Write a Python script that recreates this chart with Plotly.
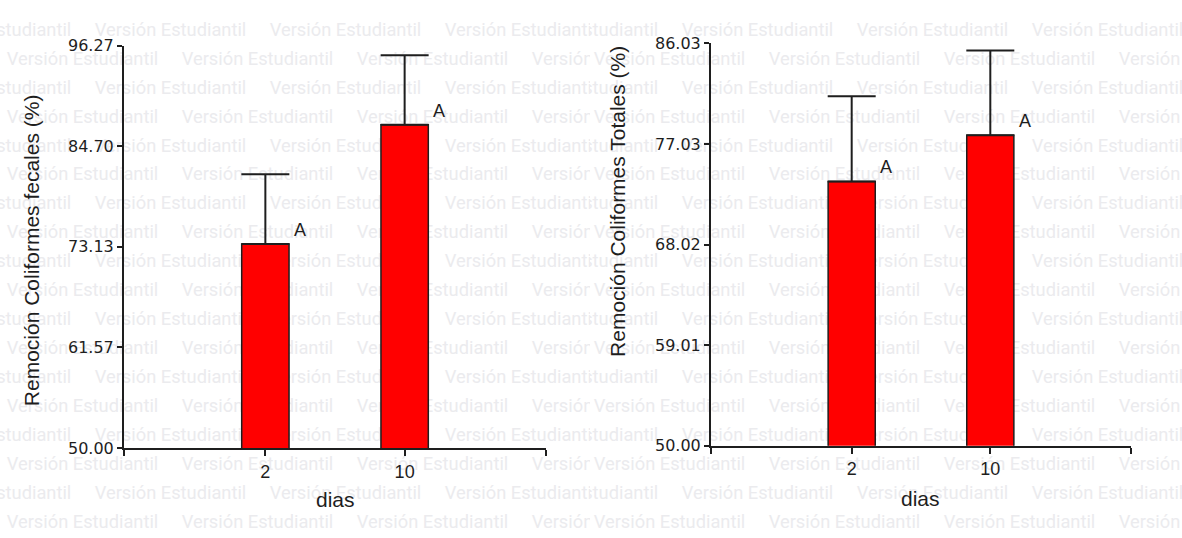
import plotly.graph_objects as go

# ---- data -------------------------------------------------------------
days = ["2", "10"]
fecales_mean = [73.45, 87.17]
fecales_err = [8.03, 7.99]
fecales_letters = ["A", "A"]
fecales_ticks = [50.00, 61.57, 73.13, 84.70, 96.27]

totales_mean = [73.67, 77.80]
totales_err = [7.64, 7.60]
totales_letters = ["A", "A"]
totales_ticks = [50.00, 59.01, 68.02, 77.03, 86.03]

# ---- page geometry (px) -----------------------------------------------
W, H = 1182, 538
INK = "#1e1e1e"
FONT = "Liberation Sans, Arial, sans-serif"
TICK_FONT = "DejaVu Sans, Verdana, sans-serif"

fig = go.Figure()

# ---- background watermark, tiled separately for each panel -------------
WM_TEXT = "Versión Estudiantil"
WM_W = 151       # approximate rendered width of one label
WM_PERIOD = 175  # horizontal repeat
WM_ROW = 30      # vertical repeat


def watermark_tile(origin_x, x0, x1):
    xs, ys = [], []
    for k in range(-1, 19):
        y = 23 + WM_ROW * k
        s = (95 if k % 2 == 0 else 7) + origin_x - 2 * WM_PERIOD
        while s < x1:
            if s + WM_W > x0:
                xs.append(s + WM_W / 2)
                ys.append(y)
            s += WM_PERIOD
    return xs, ys


SPLIT = 590
for axn, (ox, a, b) in zip(["", "2"], [(0, 0, SPLIT), (587, SPLIT, W)]):
    xs, ys = watermark_tile(ox, a, b)
    fig.add_trace(go.Scatter(
        x=xs, y=ys, mode="text", text=[WM_TEXT] * len(xs),
        textposition="middle center",
        textfont=dict(family="Roboto", size=18.3, color="#ebebee"),
        hoverinfo="skip", showlegend=False, cliponaxis=True,
        xaxis="x" + axn, yaxis="y" + axn,
    ))

# ---- bar panels --------------------------------------------------------
panels = [
    dict(ax="3", mean=fecales_mean, err=fecales_err, letters=fecales_letters,
         ticks=fecales_ticks, xdom=(124, 546), ydom=(455, 38)),
    dict(ax="4", mean=totales_mean, err=totales_err, letters=totales_letters,
         ticks=totales_ticks, xdom=(711, 1131), ydom=(452.7, 35.7)),
]

XR = [-1.015, 2.015]
layout = dict(
    width=W, height=H, autosize=False,
    margin=dict(l=0, r=0, t=0, b=0),
    paper_bgcolor="white", plot_bgcolor="rgba(0,0,0,0)",
    showlegend=False, hovermode=False,
    xaxis=dict(domain=[0, SPLIT / W], range=[0, SPLIT], visible=False, fixedrange=True),
    yaxis=dict(domain=[0, 1], range=[H, 0], visible=False, fixedrange=True),
    xaxis2=dict(domain=[SPLIT / W, 1], range=[SPLIT, W], visible=False, fixedrange=True),
    yaxis2=dict(domain=[0, 1], range=[H, 0], visible=False, fixedrange=True),
)

annotations = []
for p in panels:
    n = p["ax"]
    xpos = list(range(len(days)))
    fig.add_trace(go.Bar(
        x=xpos, y=p["mean"], width=0.34,
        marker=dict(color="#ff0000", line=dict(color=INK, width=1.5)),
        error_y=dict(type="data", symmetric=False, array=p["err"],
                     arrayminus=[0] * len(p["err"]), color=INK,
                     thickness=2, width=24),
        xaxis="x" + n, yaxis="y" + n, hoverinfo="skip",
    ))
    layout["xaxis" + n] = dict(
        domain=[p["xdom"][0] / W, p["xdom"][1] / W], anchor="y" + n,
        range=XR, tickmode="array",
        tickvals=[XR[0]] + xpos + [XR[1]],
        ticktext=[""] + days + [""],
        showline=True, linecolor=INK, linewidth=2,
        ticks="outside", ticklen=6, tickwidth=2, tickcolor=INK,
        showgrid=False, zeroline=False,
        tickfont=dict(family=FONT, size=18, color=INK), fixedrange=True,
    )
    layout["yaxis" + n] = dict(
        domain=[(H - p["ydom"][0]) / H, (H - p["ydom"][1]) / H], anchor="x" + n,
        range=[p["ticks"][0], p["ticks"][-1]], tickmode="array",
        tickvals=p["ticks"], ticktext=[f"{t:.2f}" for t in p["ticks"]],
        showline=True, linecolor=INK, linewidth=2,
        ticks="outside", ticklen=5, tickwidth=2, tickcolor=INK,
        showgrid=False, zeroline=False,
        tickfont=dict(family=TICK_FONT, size=16, color=INK), fixedrange=True,
    )
    for i, (m, lab) in enumerate(zip(p["mean"], p["letters"])):
        annotations.append(dict(
            xref="x" + n, yref="y" + n, x=i + 0.25, y=m, yshift=14,
            text=lab, showarrow=False, xanchor="center", yanchor="middle",
            font=dict(family=FONT, size=18, color=INK),
        ))

# axis titles
titles = [
    ("Remoción Coliformes fecales (%)", 31, 250, -90),
    ("Remoción Coliformes Totales (%)", 618, 200, -90),
    ("dias", 335, 508, 0),
    ("dias", 921, 507, 0),
]
for txt, px, py, ang in titles:
    annotations.append(dict(
        xref="paper", yref="paper", x=px / W, y=1 - py / H,
        text=txt, textangle=ang, showarrow=False,
        xanchor="center", yanchor="middle",
        font=dict(family=FONT, size=21, color=INK),
    ))

layout["annotations"] = annotations
fig.update_layout(**layout)
fig.write_html("out.html")
